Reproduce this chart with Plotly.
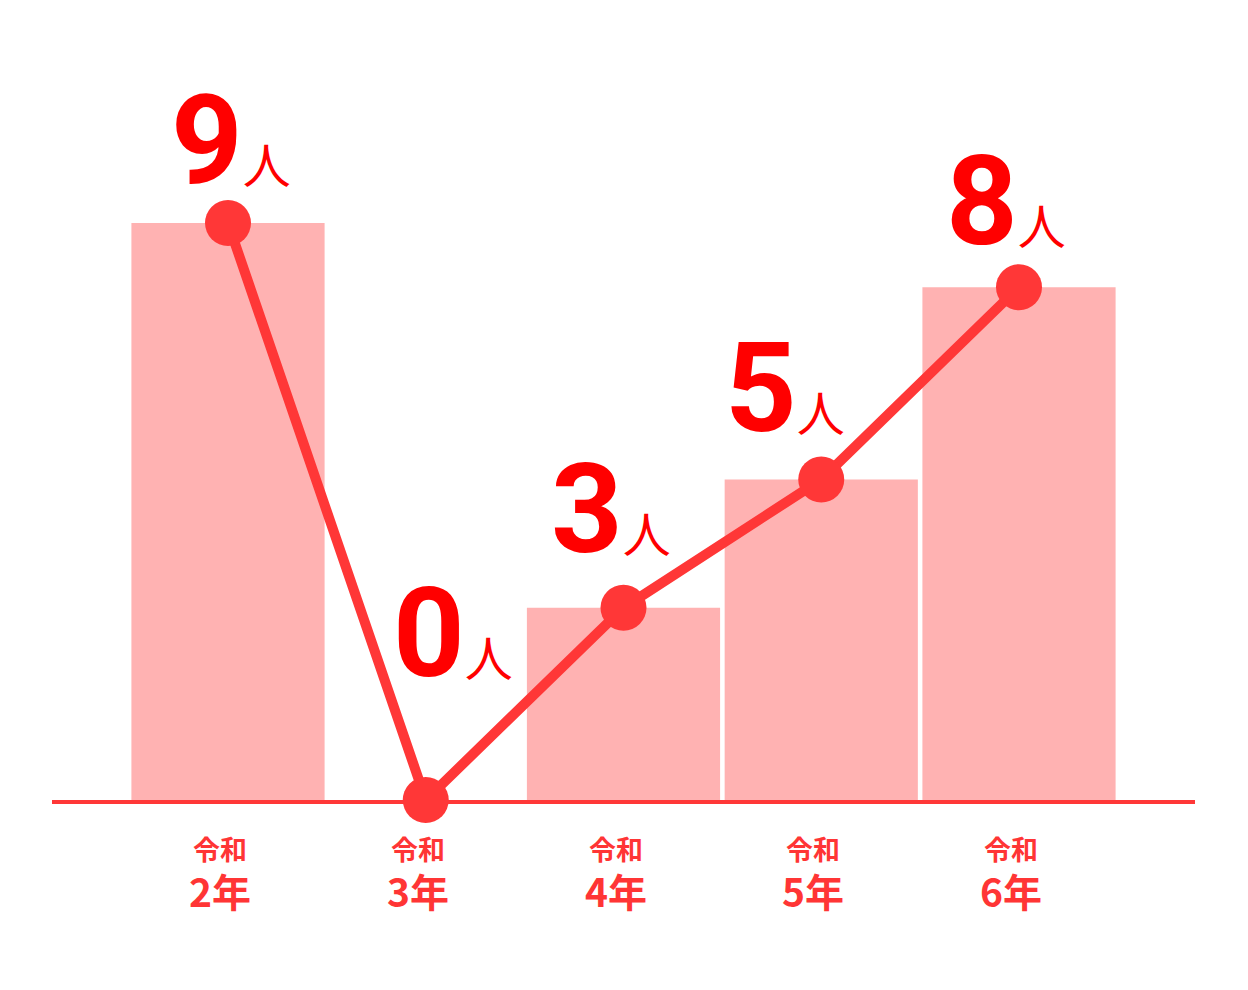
import plotly.graph_objects as go

# data
categories = ["令和2年", "令和3年", "令和4年", "令和5年", "令和6年"]
era_labels = ["令和", "令和", "令和", "令和", "令和"]
year_labels = ["2年", "3年", "4年", "5年", "6年"]
values = [9, 0, 3, 5, 8]
unit = "人"

# label placement (pixel offsets from each point)
label_dx = [3, 27, -13, -36, -13]
label_dy = [7, 91, 23, 15, 10]

x_idx = list(range(len(categories)))

BAR_COLOR = "#ffb2b2"
LINE_COLOR = "#ff3737"
NUM_COLOR = "#ff0000"
TICK_COLOR = "#ff3535"

fig = go.Figure()
fig.add_trace(go.Bar(
    x=x_idx, y=values, marker=dict(color=BAR_COLOR, line=dict(width=0)),
    hoverinfo="skip", showlegend=False,
))
fig.add_trace(go.Scatter(
    x=x_idx, y=values, mode="lines+markers",
    line=dict(color=LINE_COLOR, width=10),
    marker=dict(color=LINE_COLOR, size=46),
    cliponaxis=False, showlegend=False,
))

annotations = []
for i, v in enumerate(values):
    annotations.append(dict(
        x=x_idx[i], y=v, xref="x", yref="y",
        text=f"<b>{v}</b><span style='font-size:48px;font-family:Noto Sans CJK JP;font-weight:normal'>{unit}</span>",
        showarrow=False, xanchor="center", yanchor="bottom",
        xshift=label_dx[i], yshift=label_dy[i],
        font=dict(family="Roboto", size=125, color=NUM_COLOR),
    ))
    annotations.append(dict(
        x=x_idx[i], y=0, xref="x", yref="y",
        text=(f"<b><span style='font-size:27px'>{era_labels[i]}</span><br>"
              f"<span style='font-size:39px'>{year_labels[i]}</span></b>"),
        showarrow=False, xanchor="center", yanchor="top", align="center",
        xshift=-8, yshift=-27,
        font=dict(family="Noto Sans CJK JP", size=36, color=TICK_COLOR),
    ))

fig.update_layout(
    width=1240, height=982,
    margin=dict(l=44, r=53, t=0, b=190),
    paper_bgcolor="white", plot_bgcolor="white",
    bargap=0.023,
    annotations=annotations,
    xaxis=dict(range=[-0.89, 4.89], showgrid=False, zeroline=False,
               showticklabels=False, ticks="", showline=True,
               linecolor=LINE_COLOR, linewidth=4, fixedrange=True),
    yaxis=dict(range=[0, 12.355], showgrid=False, zeroline=False,
               showticklabels=False, ticks="", showline=False, fixedrange=True),
)

fig.write_html("out.html")
